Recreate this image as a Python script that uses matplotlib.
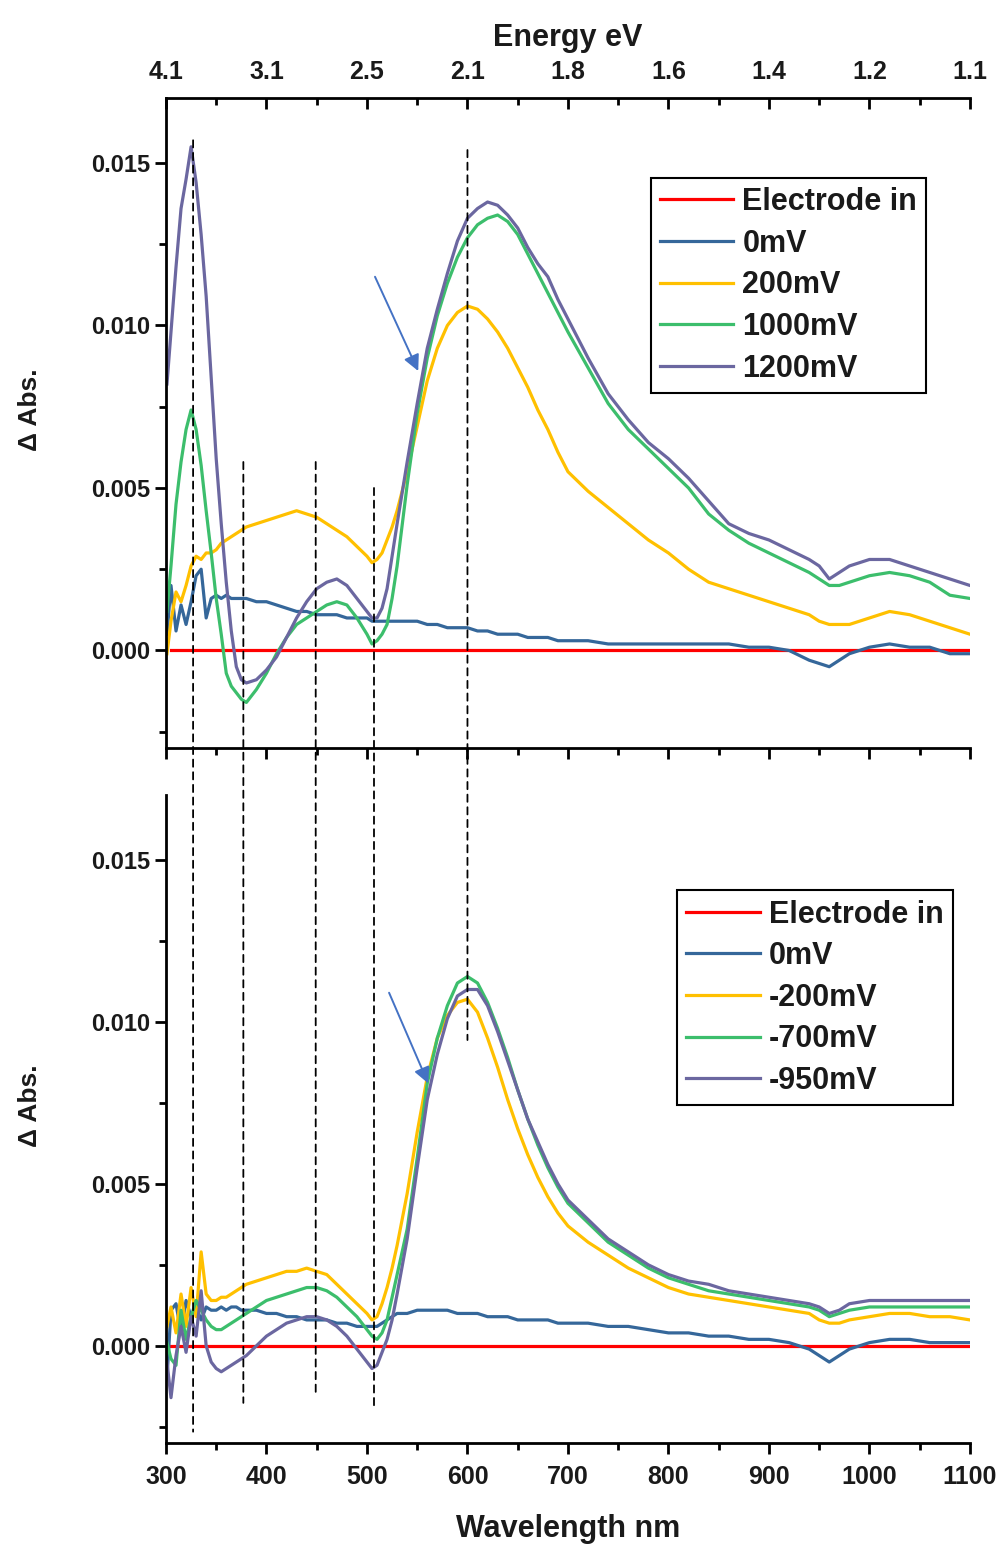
import numpy as np
import matplotlib
matplotlib.use("Agg")
from matplotlib import pyplot as plt
from matplotlib import font_manager
from matplotlib.patches import ConnectionPatch
from matplotlib.ticker import MultipleLocator, FormatStrFormatter


# wavelength grid (nm), split as UV | mid | peak | tail
WAVELENGTH = (
	[301, 305, 310, 315, 320, 325, 330, 335, 340, 345, 350, 355, 360, 365, 370, 375, 380]
	+ [390, 400, 410, 420, 430, 440, 450, 460, 470, 480, 490, 500, 505, 510, 515, 520, 525, 530]
	+ [540, 550, 560, 570, 580, 590, 600, 610, 620, 630, 640, 650, 660, 670, 680, 690, 700]
	+ [720, 740, 760, 780, 800, 820, 840, 860, 880, 900, 920, 940, 950, 960, 970, 980,
	   1000, 1020, 1040, 1060, 1080, 1100]
)

ELECTRODE_WL = [305, 1100]
ELECTRODE_IN = [0.0, 0.0]

# delta absorbance, in units of 1e-3
TOP_0MV = (
	[0.5, 2.0, 0.6, 1.4, 0.8, 1.5, 2.3, 2.5, 1.0, 1.6, 1.7, 1.6, 1.7, 1.6, 1.6, 1.6, 1.6]
	+ [1.5, 1.5, 1.4, 1.3, 1.2, 1.2, 1.1, 1.1, 1.1, 1.0, 1.0, 1.0, 0.9, 0.9, 0.9, 0.9, 0.9, 0.9]
	+ [0.9, 0.9, 0.8, 0.8, 0.7, 0.7, 0.7, 0.6, 0.6, 0.5, 0.5, 0.5, 0.4, 0.4, 0.4, 0.3, 0.3]
	+ [0.3, 0.2, 0.2, 0.2, 0.2, 0.2, 0.2, 0.2, 0.1, 0.1, 0.0, -0.3, -0.4, -0.5, -0.3, -0.1,
	   0.1, 0.2, 0.1, 0.1, -0.1, -0.1]
)
TOP_200MV = (
	[-0.1, 0.9, 1.8, 1.5, 2.0, 2.6, 2.9, 2.8, 3.0, 3.0, 3.1, 3.3, 3.4, 3.5, 3.6, 3.7, 3.8]
	+ [3.9, 4.0, 4.1, 4.2, 4.3, 4.2, 4.1, 3.9, 3.7, 3.5, 3.2, 2.9, 2.7, 2.8, 3.0, 3.4, 3.8, 4.3]
	+ [5.5, 6.9, 8.3, 9.3, 10.0, 10.4, 10.6, 10.5, 10.2, 9.8, 9.3, 8.7, 8.1, 7.4, 6.8, 6.1, 5.5]
	+ [4.9, 4.4, 3.9, 3.4, 3.0, 2.5, 2.1, 1.9, 1.7, 1.5, 1.3, 1.1, 0.9, 0.8, 0.8, 0.8,
	   1.0, 1.2, 1.1, 0.9, 0.7, 0.5]
)
TOP_1000MV = (
	[1.2, 2.6, 4.5, 5.8, 6.8, 7.4, 6.8, 5.7, 4.3, 3.0, 1.6, 0.5, -0.7, -1.1, -1.3, -1.5, -1.6]
	+ [-1.2, -0.7, -0.1, 0.4, 0.8, 1.0, 1.2, 1.4, 1.5, 1.4, 1.0, 0.5, 0.2, 0.3, 0.5, 0.8, 1.6, 2.6]
	+ [5.1, 7.3, 9.0, 10.3, 11.3, 12.1, 12.7, 13.1, 13.3, 13.4, 13.2, 12.8, 12.2, 11.6, 11.0, 10.4, 9.8]
	+ [8.7, 7.6, 6.8, 6.2, 5.6, 5.0, 4.2, 3.7, 3.3, 3.0, 2.7, 2.4, 2.2, 2.0, 2.0, 2.1,
	   2.3, 2.4, 2.3, 2.1, 1.7, 1.6]
)
TOP_1200MV = (
	[8.2, 9.8, 11.8, 13.6, 14.5, 15.5, 14.4, 12.8, 10.9, 8.4, 5.9, 3.9, 2.1, 0.6, -0.5, -0.9, -1.0]
	+ [-0.9, -0.6, -0.2, 0.4, 1.0, 1.5, 1.9, 2.1, 2.2, 2.0, 1.6, 1.2, 1.0, 1.0, 1.3, 1.9, 2.9, 3.9]
	+ [5.8, 7.6, 9.3, 10.5, 11.6, 12.6, 13.3, 13.6, 13.8, 13.7, 13.4, 13.0, 12.4, 11.9, 11.5, 10.8, 10.2]
	+ [9.0, 7.9, 7.1, 6.4, 5.9, 5.3, 4.6, 3.9, 3.6, 3.4, 3.1, 2.8, 2.6, 2.2, 2.4, 2.6,
	   2.8, 2.8, 2.6, 2.4, 2.2, 2.0]
)

BOTTOM_0MV = (
	[-1.0, 1.1, 1.3, 0.4, 1.4, 0.9, 1.2, 0.8, 1.2, 1.1, 1.1, 1.2, 1.1, 1.2, 1.2, 1.1, 1.1]
	+ [1.1, 1.0, 1.0, 0.9, 0.9, 0.8, 0.8, 0.8, 0.7, 0.7, 0.6, 0.6, 0.6, 0.6, 0.7, 0.8, 0.9, 1.0]
	+ [1.0, 1.1, 1.1, 1.1, 1.1, 1.0, 1.0, 1.0, 0.9, 0.9, 0.9, 0.8, 0.8, 0.8, 0.8, 0.7, 0.7]
	+ [0.7, 0.6, 0.6, 0.5, 0.4, 0.4, 0.3, 0.3, 0.2, 0.2, 0.1, -0.1, -0.3, -0.5, -0.3, -0.1,
	   0.1, 0.2, 0.2, 0.1, 0.1, 0.1]
)
BOTTOM_M200MV = (
	[0.6, 1.2, 0.4, 1.6, 0.6, 1.8, 0.9, 2.9, 1.6, 1.4, 1.4, 1.5, 1.5, 1.6, 1.7, 1.8, 1.9]
	+ [2.0, 2.1, 2.2, 2.3, 2.3, 2.4, 2.3, 2.2, 1.9, 1.6, 1.3, 1.0, 0.8, 0.9, 1.3, 1.8, 2.4, 3.1]
	+ [4.7, 6.6, 8.3, 9.5, 10.2, 10.6, 10.7, 10.3, 9.5, 8.6, 7.6, 6.7, 5.9, 5.2, 4.6, 4.1, 3.7]
	+ [3.2, 2.8, 2.4, 2.1, 1.8, 1.6, 1.5, 1.4, 1.3, 1.2, 1.1, 1.0, 0.8, 0.7, 0.7, 0.8,
	   0.9, 1.0, 1.0, 0.9, 0.9, 0.8]
)
BOTTOM_M700MV = (
	[0.1, -0.4, -0.6, 1.1, 0.2, 0.9, 1.4, 1.1, 0.8, 0.6, 0.5, 0.5, 0.6, 0.7, 0.8, 0.9, 1.0]
	+ [1.2, 1.4, 1.5, 1.6, 1.7, 1.8, 1.8, 1.7, 1.5, 1.2, 0.9, 0.5, 0.3, 0.2, 0.4, 0.8, 1.5, 2.2]
	+ [3.6, 5.8, 8.1, 9.5, 10.5, 11.2, 11.4, 11.2, 10.6, 9.8, 8.9, 7.9, 7.0, 6.2, 5.5, 4.9, 4.4]
	+ [3.8, 3.2, 2.8, 2.4, 2.1, 1.9, 1.7, 1.6, 1.5, 1.4, 1.3, 1.2, 1.1, 0.9, 1.0, 1.1,
	   1.2, 1.2, 1.2, 1.2, 1.2, 1.2]
)
BOTTOM_M950MV = (
	[-0.5, -1.6, -0.3, 0.6, -0.2, 0.9, 0.3, 1.7, 0.0, -0.5, -0.7, -0.8, -0.7, -0.6, -0.5, -0.4, -0.3]
	+ [0.0, 0.3, 0.5, 0.7, 0.8, 0.9, 0.9, 0.8, 0.6, 0.3, -0.1, -0.5, -0.7, -0.6, -0.2, 0.2, 0.8, 1.6]
	+ [3.3, 5.5, 7.6, 9.0, 10.1, 10.8, 11.0, 11.0, 10.5, 9.7, 8.8, 7.9, 7.0, 6.3, 5.6, 5.0, 4.5]
	+ [3.9, 3.3, 2.9, 2.5, 2.2, 2.0, 1.9, 1.7, 1.6, 1.5, 1.4, 1.3, 1.2, 1.0, 1.1, 1.3,
	   1.4, 1.4, 1.4, 1.4, 1.4, 1.4]
)

TOP_LABELS = ["Electrode in", "0mV", "200mV", "1000mV", "1200mV"]
BOTTOM_LABELS = ["Electrode in", "0mV", "-200mV", "-700mV", "-950mV"]
COLORS = ["#FF0000", "#35679A", "#FFC000", "#3CBE6C", "#6B67A0"]

ENERGY_TICKS_NM = [300, 400, 500, 600, 700, 800, 900, 1000, 1100]
ENERGY_LABELS = ["4.1", "3.1", "2.5", "2.1", "1.8", "1.6", "1.4", "1.2", "1.1"]

# dashed guides: wavelength, upper end (top panel), lower end (bottom panel)
GUIDE_NM = [327, 377, 449, 507, 600]
GUIDE_TOP_END = [0.0157, 0.0058, 0.0058, 0.0050, 0.0154]
GUIDE_BOTTOM_END = [-0.00265, -0.00176, -0.00157, -0.00188, 0.00944]

TOP_ARROW = ((508, 0.0115), (551, 0.0086))
BOTTOM_ARROW = ((522, 0.0109), (561, 0.0081))

INK = "#1a1a1a"


def pick_narrow_font():
	names = {f.name for f in font_manager.fontManager.ttflist}
	for name in ("Liberation Sans Narrow", "DejaVu Sans Condensed"):
		if name in names:
			return name, 22
	return "Liberation Sans", 18


def style_axis(ax, narrow, narrow_size):
	ax.set_xlim(300, 1100)
	ax.set_ylim(-0.003, 0.017)
	ax.xaxis.set_major_locator(MultipleLocator(100))
	ax.xaxis.set_minor_locator(MultipleLocator(50))
	ax.yaxis.set_major_locator(MultipleLocator(0.005))
	ax.yaxis.set_minor_locator(MultipleLocator(0.0025))
	ax.yaxis.set_major_formatter(FormatStrFormatter("%.3f"))
	ax.tick_params(which="major", direction="out", length=8, width=2, colors="black",
				   labelcolor=INK, labelsize=17)
	ax.tick_params(which="minor", direction="out", length=5, width=2, colors="black")
	ax.tick_params(axis="x", pad=8)
	for lab in ax.get_xticklabels():
		lab.set_fontfamily(narrow)
		lab.set_fontsize(narrow_size)
		lab.set_fontweight("bold")
	for lab in ax.get_yticklabels():
		lab.set_fontweight("bold")
	for side in ("right", "top"):
		ax.spines[side].set_visible(False)
	for side in ("left", "bottom"):
		ax.spines[side].set_linewidth(2)
	ax.set_ylabel("\u0394 Abs.", fontsize=19, fontweight="bold", color=INK)
	ax.yaxis.set_label_coords(-0.154, 0.52)


def plot_panel(ax, series, labels):
	wl = np.array(WAVELENGTH)
	ax.plot(ELECTRODE_WL, ELECTRODE_IN, color=COLORS[0], lw=2.3, label=labels[0])
	for values, label, color in zip(series, labels[1:], COLORS[1:]):
		vals = np.array(values) * 1e-3
		if len(vals) != len(wl):
			raise ValueError(f"{label}: {len(vals)} points, expected {len(wl)}")
		ax.plot(wl, vals, color=color, lw=2.3, label=label)
	leg = ax.legend(loc="upper left", frameon=True, fancybox=False, edgecolor="black",
					framealpha=1, borderaxespad=0, handlelength=2.4, handletextpad=0.3,
					labelspacing=0.38, borderpad=0.3,
					prop={"weight": "bold", "size": 22})
	leg.get_frame().set_linewidth(1.5)
	for txt in leg.get_texts():
		txt.set_color(INK)
	return leg


def main():
	plt.rcParams["font.family"] = ["Liberation Sans", "DejaVu Sans"]
	narrow, narrow_size = pick_narrow_font()

	fig = plt.figure(figsize=(10.04, 15.46), dpi=100)
	ax_top = fig.add_axes([0.1653, 0.5162, 0.8008, 0.4204])
	ax_bot = fig.add_axes([0.1653, 0.0666, 0.8008, 0.4191])

	leg = plot_panel(ax_top, [TOP_0MV, TOP_200MV, TOP_1000MV, TOP_1200MV], TOP_LABELS)
	leg.set_bbox_to_anchor((0.603, 0.877), transform=ax_top.transAxes)
	leg = plot_panel(ax_bot, [BOTTOM_0MV, BOTTOM_M200MV, BOTTOM_M700MV, BOTTOM_M950MV],
					 BOTTOM_LABELS)
	leg.set_bbox_to_anchor((0.636, 0.853), transform=ax_bot.transAxes)

	style_axis(ax_top, narrow, narrow_size)
	style_axis(ax_bot, narrow, narrow_size)
	ax_top.tick_params(axis="x", labelbottom=False)

	# energy scale on top of the upper panel
	sec = ax_top.secondary_xaxis("top")
	sec.set_xticks(ENERGY_TICKS_NM, ENERGY_LABELS)
	sec.xaxis.set_minor_locator(MultipleLocator(50))
	sec.tick_params(which="major", direction="in", length=8, width=2, labelcolor=INK, pad=10)
	sec.tick_params(which="minor", direction="in", length=5, width=2)
	sec.spines["top"].set_linewidth(2)
	for lab in sec.get_xticklabels():
		lab.set_fontfamily(narrow)
		lab.set_fontsize(narrow_size)
		lab.set_fontweight("bold")
	sec.set_xlabel("Energy eV", fontsize=22, fontweight="bold", color=INK, labelpad=10)

	ax_bot.set_xlabel("Wavelength nm", fontsize=22, fontweight="bold", color=INK, labelpad=18)

	for nm, y_top, y_bot in zip(GUIDE_NM, GUIDE_TOP_END, GUIDE_BOTTOM_END):
		con = ConnectionPatch(xyA=(nm, y_top), coordsA=ax_top.transData,
							  xyB=(nm, y_bot), coordsB=ax_bot.transData,
							  color="black", lw=1.3, linestyle=(0, (4, 3)), zorder=5)
		fig.add_artist(con)

	for ax, (tail, tip) in ((ax_top, TOP_ARROW), (ax_bot, BOTTOM_ARROW)):
		ax.annotate("", xy=tip, xytext=tail,
					arrowprops=dict(arrowstyle="-|>", color="#4472C4", lw=1.4,
									mutation_scale=24, shrinkA=0, shrinkB=0))

	fig.savefig("out.png", dpi=100)
	plt.close(fig)


if __name__ == "__main__":
	main()
